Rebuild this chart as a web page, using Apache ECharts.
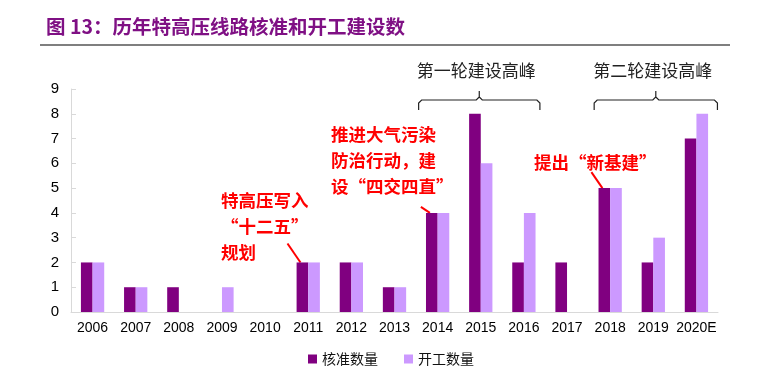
<!DOCTYPE html>
<html><head><meta charset="utf-8">
<script src="https://cdn.jsdelivr.net/npm/echarts@6/dist/echarts.min.js"></script>
<style>html,body{margin:0;padding:0;background:#fff}#c{width:782px;height:383px}</style>
</head><body><div id="c"></div>
<script>
var categories = ['2006','2007','2008','2009','2010','2011','2012','2013','2014','2015','2016','2017','2018','2019','2020E'];
var approved = [2,1,1,0,0,2,2,1,4,8,2,2,5,2,7];
var started = [2,1,0,1,0,2,2,1,4,6,4,0,5,3,8];
var yTicks = [0,1,2,3,4,5,6,7,8,9];
var seriesNames = ['核准数量','开工数量'];
var titleText = '图 13：历年特高压线路核准和开工建设数';
var peakLabels = ['第一轮建设高峰','第二轮建设高峰'];
var peakRanges = [['2014','2016'],['2018','2020E']];
var notes = [
  {text:'特高压写入\n“十二五”\n规划', cat:'2011', val:2, series:0},
  {text:'推进大气污染\n防治行动，建\n设“四交四直”', cat:'2014', val:4, series:0},
  {text:'提出“新基建”', cat:'2018', val:5, series:0}
];

var chart = echarts.init(document.getElementById('c'));
var cjk = '"Noto Sans CJK SC", sans-serif';
chart.setOption({
  animation:false,
  title:{text:titleText,left:41,top:12,textStyle:{fontSize:19.5,fontWeight:'bold',color:'#7F1084',fontFamily:cjk}},
  legend:{data:seriesNames,bottom:12,left:'center',itemWidth:9,itemHeight:9,itemGap:26,icon:'rect',
    textStyle:{fontSize:14,color:'#111',fontFamily:cjk}},
  grid:{left:71,right:64,top:89,bottom:71},
  xAxis:{type:'category',data:categories,
    axisLine:{lineStyle:{color:'#d9d9d9'}},
    axisTick:{inside:true,length:4,lineStyle:{color:'#d9d9d9'}},
    axisLabel:{fontSize:14,color:'#000',fontFamily:'Arial, "Liberation Sans", sans-serif',margin:9,interval:0}},
  yAxis:{type:'value',min:0,max:9,interval:1,
    axisLine:{show:true,lineStyle:{color:'#d9d9d9'}},
    axisTick:{show:true,inside:true,length:5,lineStyle:{color:'#d9d9d9'}},
    splitLine:{show:false},
    axisLabel:{fontSize:15,color:'#000',fontFamily:'Arial, "Liberation Sans", sans-serif',margin:12}},
  series:[
    {name:seriesNames[0],type:'bar',data:approved,barGap:'0%',barCategoryGap:'46%',itemStyle:{color:'#800080'}},
    {name:seriesNames[1],type:'bar',data:started,barGap:'0%',barCategoryGap:'46%',itemStyle:{color:'#CC99FF'}}
  ]
});

function px(cat,val){return chart.convertToPixel({gridIndex:0},[cat,val]);}
var g = [];
g.push({type:'line',shape:{x1:40,y1:45,x2:730,y2:45},style:{stroke:'#555',lineWidth:1.5}});
var offs = [[-19,16],[-16,21]];
peakRanges.forEach(function(r,i){
  var a = px(r[0],0)[0]+offs[i][0], b = px(r[1],0)[0]+offs[i][1];
  var m = (a+b)/2;
  var yTop = 91, yMid = 100, yEnd = 110;
  g.push({type:'polyline',shape:{points:[[a,yEnd],[a,yMid+3],[a+3,yMid],[m-3,yMid],[m,yMid-3],[m,yTop],[m,yMid-3],[m+3,yMid],[b-3,yMid],[b,yMid+3],[b,yEnd]]},
    style:{stroke:'#222',lineWidth:1.2,fill:null}});
  g.push({type:'text',x:m-3,y:71,style:{text:peakLabels[i],fill:'#222',font:'17px '+cjk,align:'center',verticalAlign:'middle'}});
});
var notePos = [{x:221,y:187,dx1:-13,dy1:-19},{x:331,y:121,dx1:-9,dy1:-6},{x:534,y:149,dx1:-11,dy1:-16}];
var barW = 11.5;
notes.forEach(function(n,i){
  var p = px(n.cat,n.val);
  var bx = p[0]-barW/2 - 2, by = p[1];
  g.push({type:'line',shape:{x1:bx+notePos[i].dx1,y1:by+notePos[i].dy1,x2:bx,y2:by},style:{stroke:'#FF0000',lineWidth:2}});
  g.push({type:'text',x:notePos[i].x,y:notePos[i].y,style:{text:n.text,fill:'#FF0000',font:'bold 17.5px '+cjk,lineHeight:26,align:'left',verticalAlign:'top'}});
});
chart.setOption({graphic:g});
</script></body></html>
